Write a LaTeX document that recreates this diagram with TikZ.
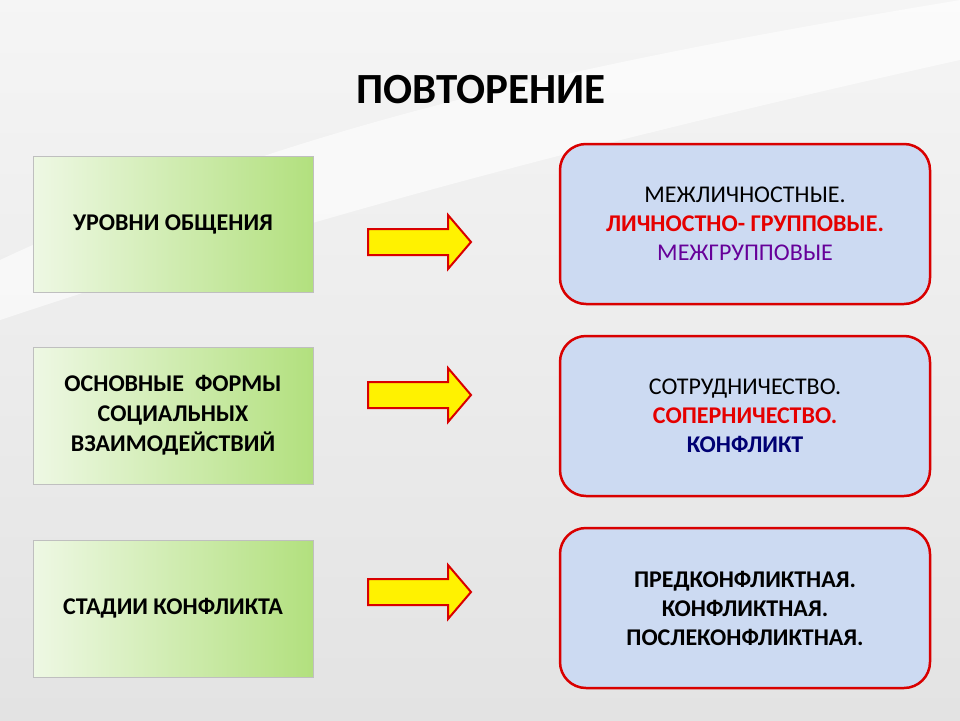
\documentclass[tikz,border=0pt]{standalone}
\usepackage{fontspec}
\setmainfont{Carlito}
\definecolor{rfill}{HTML}{CCDAF2}
\definecolor{gl}{HTML}{EEF8E4}
\definecolor{gr}{HTML}{B2E07E}
\begin{document}
\begin{tikzpicture}[x=1pt,y=-1pt,
 lbox/.style={draw=gray!50,line width=0.6pt,left color=gl,right color=gr,align=center,font=\bfseries\fontsize{24}{30}\selectfont},
 rbox/.style={draw=red!85!black,line width=2.5pt,rounded corners=26pt,fill=rfill,align=center,font=\fontsize{24}{29}\selectfont},
 arr/.style={draw=red!85!black,line width=2pt,fill=yellow}]
\shade[top color=gray!8,bottom color=gray!22] (0,0) rectangle (960,720);
\fill[white,opacity=0.6] (0,260) .. controls (300,120) and (600,60) .. (960,0) -- (960,60) .. controls (600,140) and (300,220) .. (0,320) -- cycle;
\node[font=\bfseries\fontsize{43}{48}\selectfont] (title) at (481,90) {ПОВТОРЕНИЕ};
\node[lbox,minimum width=280,minimum height=136] (l1) at (173,224) {УРОВНИ ОБЩЕНИЯ};
\node[lbox,minimum width=280,minimum height=137] (l2) at (173,415.5) {ОСНОВНЫЕ\ \ ФОРМЫ\\СОЦИАЛЬНЫХ\\ВЗАИМОДЕЙСТВИЙ};
\node[lbox,minimum width=280,minimum height=137] (l3) at (173,608.5) {СТАДИИ КОНФЛИКТА};
\node[rbox,minimum width=370,minimum height=160] (r1) at (745,224) {МЕЖЛИЧНОСТНЫЕ.\\\textcolor{red!90!black}{\bfseries ЛИЧНОСТНО- ГРУППОВЫЕ.}\\\textcolor{violet!80!blue}{МЕЖГРУППОВЫЕ}};
\node[rbox,minimum width=370,minimum height=160] (r2) at (745,416) {СОТРУДНИЧЕСТВО.\\\textcolor{red!90!black}{\bfseries СОПЕРНИЧЕСТВО.}\\\textcolor{blue!45!black}{\bfseries КОНФЛИКТ}};
\node[rbox,minimum width=370,minimum height=160,font=\bfseries\fontsize{24}{29}\selectfont] (r3) at (745,608) {ПРЕДКОНФЛИКТНАЯ.\\КОНФЛИКТНАЯ.\\ПОСЛЕКОНФЛИКТНАЯ.};
\foreach \y in {242,395,592}{
  \draw[arr] (368,\y-13) -- (448,\y-13) -- (448,\y-27) -- (471,\y) -- (448,\y+27) -- (448,\y+13) -- (368,\y+13) -- cycle;
}
\end{tikzpicture}
\end{document}
